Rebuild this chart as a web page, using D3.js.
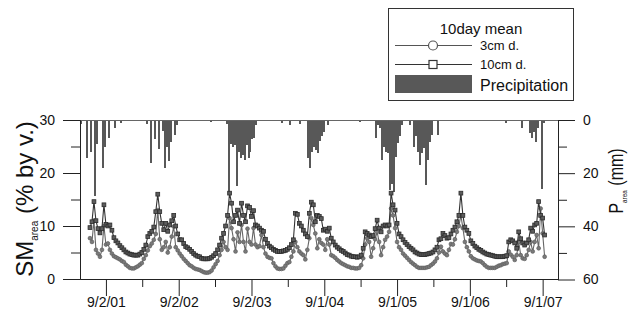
<!DOCTYPE html>
<html><head><meta charset="utf-8">
<script src="https://cdn.jsdelivr.net/npm/d3@7"></script>
<style>
body{margin:0;background:#fff}
svg{display:block}
text{font-family:"Liberation Sans",Arial,sans-serif;fill:#111}
</style>
</head><body>
<svg id="chart" width="631" height="320"></svg>
<script>
// ---------------- data ----------------
const tickDates  = ["2001-09-02","2002-09-02","2003-09-02","2004-09-01","2005-09-01","2006-09-01","2007-09-01"];
const tickLabels = ["9/2/01","9/2/02","9/2/03","9/1/04","9/1/05","9/1/06","9/1/07"];
const minorTickDates = ["2002-03-03","2003-03-03","2004-03-02","2005-03-02","2006-03-02","2007-03-02"];
const smTicks = [0,10,20,30];
const smMinorTicks = [5,15,25];
const pTicks = [0,20,40,60];
const pMinorTicks = [10,30,50];

// soil moisture (% by volume), 10day means starting 2001-06-14
const smStart = "2001-06-14", smStepDays = 10;
const sm10cm = [
 9.7,10.8,14.6,11.0,9.5,8.7,9.5,14.0,10.3,10.0,
 10.2,9.2,7.8,7.2,6.8,6.3,5.9,5.5,5.1,4.9,
 4.7,4.6,4.5,4.5,4.5,4.7,5.0,5.6,6.4,8.0,
 8.6,9.0,9.8,12.7,16.0,12.7,10.5,9.3,10.5,9.0,
 10.2,11.0,12.0,10.0,8.5,7.4,7.4,6.7,6.1,5.9,
 5.6,5.2,4.8,4.5,4.3,4.2,3.9,3.8,3.8,3.8,
 3.9,4.1,4.4,4.8,5.5,6.4,7.7,8.6,10.0,12.0,
 16.2,14.3,10.8,12.0,13.0,10.5,14.3,12.0,10.8,13.8,
 13.5,11.8,12.9,10.2,10.0,9.6,9.2,9.0,7.5,6.7,
 6.2,5.9,5.6,5.4,5.2,5.2,5.2,5.3,5.4,5.6,
 5.9,6.5,7.4,12.4,12.2,10.5,10.0,9.2,8.5,8.0,
 12.4,14.5,14.0,10.8,12.0,11.8,11.4,9.2,9.4,9.0,
 9.6,7.7,7.0,6.4,6.0,5.7,5.4,5.2,4.9,4.6,
 4.5,4.3,4.2,4.2,4.1,4.2,4.5,5.8,8.9,8.6,
 8.3,8.0,8.2,9.5,11.1,9.6,8.9,10.0,10.2,10.0,
 10.2,16.2,14.0,13.0,10.5,8.5,8.0,7.4,6.9,6.5,
 6.1,5.8,5.5,5.1,4.9,4.7,4.6,4.6,4.6,4.7,
 4.8,4.9,5.1,5.5,6.0,7.4,7.6,8.6,8.2,7.7,
 7.8,8.5,9.2,9.8,10.8,12.0,16.2,12.0,9.8,9.2,
 8.6,7.2,6.7,6.2,5.9,5.6,5.4,5.1,4.9,4.7,
 4.6,4.5,4.4,4.3,4.2,4.2,4.2,4.2,4.3,4.4,
 7.0,7.4,7.2,6.8,5.8,8.9,7.6,6.8,6.4,6.8,
 7.4,9.6,9.0,10.2,10.5,14.6,12.0,11.5,8.3
];
const sm3cm = [
 7.7,7.0,11.0,5.5,4.8,4.2,5.5,10.0,6.5,6.7,
 5.5,4.8,4.3,4.1,3.9,3.7,3.4,3.2,2.7,2.4,
 2.1,2.0,2.0,2.2,2.4,2.7,3.0,3.8,4.5,5.4,
 6.2,6.7,7.4,8.5,13.0,7.5,5.5,6.0,7.0,5.0,
 6.0,8.0,9.9,6.0,5.4,4.8,4.3,3.8,3.4,3.0,
 2.6,2.4,2.1,1.9,1.8,1.7,1.5,1.3,1.2,1.2,
 1.3,1.6,2.2,2.8,3.4,4.5,5.5,7.0,6.0,5.5,
 11.5,9.6,7.5,5.2,8.8,7.0,10.2,7.0,5.2,9.5,
 7.0,6.5,9.6,6.5,6.0,6.2,8.3,6.0,4.8,4.2,
 4.0,3.9,3.0,2.4,2.0,1.9,1.9,2.0,2.5,3.0,
 3.2,4.2,5.2,7.0,6.0,5.2,4.8,4.5,3.7,5.5,
 7.7,11.5,10.2,8.6,5.8,7.5,6.8,6.5,5.5,7.5,
 6.5,4.5,4.3,4.0,3.6,3.3,3.0,2.8,2.6,2.4,
 2.3,2.1,2.1,2.0,2.0,2.1,2.6,3.9,6.5,7.7,
 7.0,4.2,5.8,7.5,8.9,7.0,4.5,6.0,7.4,8.0,
 8.9,13.3,12.0,9.6,7.0,6.0,5.5,4.8,4.4,4.0,
 3.6,3.2,2.9,2.6,2.3,2.1,2.1,2.1,2.1,2.2,
 2.3,2.6,2.9,3.3,3.9,5.0,6.1,5.2,4.8,4.5,
 5.5,6.6,6.5,7.5,8.9,10.0,12.0,9.6,7.0,6.0,
 5.2,4.3,3.9,3.7,3.5,3.4,3.3,3.0,2.6,2.3,
 2.1,2.1,2.1,2.1,2.3,2.5,2.6,2.8,2.9,3.0,
 5.2,4.6,4.2,3.6,4.5,7.0,4.5,3.9,3.8,4.5,
 5.5,7.0,5.2,7.0,8.3,5.8,13.3,8.6,4.2
];

// precipitation (mm), 10-day periods starting 2001-04-25
const pStart = "2001-04-25", pStepDays = 10;
const precip = [
 1.5,0,0,14.4,0,12.2,0,28.5,9,0,0,18,10,0,6.9,0,0,3.1,0,0,
 1.3,0,0,0,0,0,0.5,0,0,0,0,0,0,1.5,0,16.2,0,7,0,11,
 0,4,18.1,10,15.6,8.1,0,5.6,2,0,0,0,0,0,0,0,0,0.5,0,0,
 0,0,0,0,0,0.8,0,0,0,0,0,0,0,1.5,27.5,9,10,9.5,25,12,
 14.4,13,15,9.4,14.4,11.9,7,6.9,1.9,0,0,0,0,0,0,0,0,0,0,0,
 0,1.2,0,0,0,1.9,0,0,0,0,1.5,0,0,0,14.4,18.1,12,10,11.2,12.5,
 8,6.2,4.4,0,1.9,0,0,0,0,0,0,0,0,0,0,0,0,0,0,0,
 0.8,0,0,0,0,0,0,0,6.9,2,3.1,15,10,11.9,12.5,26.2,24,27,14,8.7,
 6.2,2,0,0,0,1.9,0,10,6.2,12,16.9,12.5,10.6,24.4,15,8.1,5.6,0,0,5.6,
 0,0,0,0,0,0,0,0,0,0,0,0,0,0,0,0,0,0,0,0,
 0.5,0,0,0,0,0,0,0,0,0,0,0,0,1.3,0,0,0,0,0,0,
 0,3.1,0,0,0,5,6.9,4.4,8.1,3,0,25.8,1,0
];

// ---------------- drawing ----------------
const parse = d3.timeParse("%Y-%m-%d");
const svg = d3.select("#chart");
const L = 80, R = 558, T = 120, B = 279;

const x = d3.scaleTime().domain([parse("2001-04-25"), parse("2007-11-17")]).range([L, R]);
const ySM = d3.scaleLinear().domain([0,30]).range([B, T]);
const yP = d3.scaleLinear().domain([0,60]).range([T, B + 0.5]);

const smDates = sm10cm.map((_, i) => d3.timeDay.offset(parse(smStart), smStepDays * i));
const pDates = precip.map((_, i) => d3.timeDay.offset(parse(pStart), pStepDays * i));

// precipitation bars hanging from top
svg.append("g").selectAll("rect")
  .data(precip.map((v, i) => ({v, d: pDates[i]})).filter(o => o.v > 0))
  .join("rect")
  .attr("x", o => x(o.d))
  .attr("width", o => x(d3.timeDay.offset(o.d, pStepDays)) - x(o.d))
  .attr("y", T)
  .attr("height", o => yP(o.v) - T)
  .attr("fill", "#585858")
  .attr("shape-rendering", "crispEdges");

// top frame line
svg.append("line").attr("x1", L).attr("x2", R).attr("y1", T + 0.5).attr("y2", T + 0.5)
  .attr("stroke", "#666").attr("stroke-width", 1);

// series
const line = d3.line().x((d, i) => x(smDates[i])).y(d => ySM(d));
svg.append("path").datum(sm3cm).attr("d", line).attr("fill", "none")
  .attr("stroke", "#666").attr("stroke-width", 1.1);
svg.append("g").selectAll("circle").data(sm3cm).join("circle")
  .attr("cx", (d, i) => x(smDates[i])).attr("cy", d => ySM(d)).attr("r", 1.9)
  .attr("fill", "#7a7a7a").attr("stroke", "#5e5e5e").attr("stroke-width", 0.7);

svg.append("path").datum(sm10cm).attr("d", line).attr("fill", "none")
  .attr("stroke", "#333").attr("stroke-width", 1.1);
const sq = 3.8;
svg.append("g").selectAll("rect").data(sm10cm).join("rect")
  .attr("x", (d, i) => x(smDates[i]) - sq / 2).attr("y", d => ySM(d) - sq / 2)
  .attr("width", sq).attr("height", sq)
  .attr("fill", "#5c5c5c").attr("stroke", "#2b2b2b").attr("stroke-width", 0.8);

// axes
function styleAxis(g) {
  g.selectAll("path,line").attr("stroke", "#222");
  g.selectAll("text").attr("font-size", 14).attr("fill", "#111")
    .attr("font-family", "'Liberation Sans', Arial, sans-serif");
}
svg.append("g").attr("transform", `translate(${L},0)`)
  .call(d3.axisLeft(ySM).tickValues(smMinorTicks).tickSize(9).tickSizeOuter(0).tickFormat(""))
  .call(styleAxis);
svg.append("g").attr("transform", `translate(${L},0)`)
  .call(d3.axisLeft(ySM).tickValues(smTicks).tickSize(17).tickSizeOuter(0).tickPadding(8))
  .call(styleAxis);

svg.append("g").attr("transform", `translate(${R},0)`)
  .call(d3.axisRight(yP).tickValues(pMinorTicks).tickSize(9).tickSizeOuter(0).tickFormat(""))
  .call(styleAxis);
svg.append("g").attr("transform", `translate(${R},0)`)
  .call(d3.axisRight(yP).tickValues(pTicks).tickSize(17).tickSizeOuter(0).tickPadding(8))
  .call(styleAxis);

svg.append("g").attr("transform", `translate(0,${B})`)
  .call(d3.axisBottom(x).tickValues(minorTickDates.map(parse)).tickSize(8).tickSizeOuter(0).tickFormat(""))
  .call(styleAxis);
svg.append("g").attr("transform", `translate(0,${B})`)
  .call(d3.axisBottom(x).tickValues(tickDates.map(parse)).tickSize(17).tickSizeOuter(0).tickPadding(1)
    .tickFormat((d, i) => tickLabels[i]))
  .call(styleAxis);

// axis titles
const lt = svg.append("text").attr("transform", "translate(33,199) rotate(-90)")
  .attr("text-anchor", "middle").attr("font-size", 24);
lt.append("tspan").text("SM");
lt.append("tspan").attr("font-size", 10).attr("dy", 5).text("area");
lt.append("tspan").attr("dy", -5).text(" (% by v.)");

const rt = svg.append("text").attr("transform", "translate(623,181) rotate(-90) scale(0.8,1)")
  .attr("text-anchor", "middle").attr("font-size", 20);
rt.append("tspan").text("P");
rt.append("tspan").attr("font-size", 8).attr("dy", 4).text("area");
rt.append("tspan").attr("dy", -4).text(" (mm)");

// legend
const lg = svg.append("g");
lg.append("rect").attr("x", 388.5).attr("y", 8.5).attr("width", 185).attr("height", 92)
  .attr("fill", "#fff").attr("stroke", "#333");
lg.append("text").attr("x", 481).attr("y", 34).attr("text-anchor", "middle").attr("font-size", 15).text("10day mean");
lg.append("line").attr("x1", 395).attr("x2", 472).attr("y1", 45.5).attr("y2", 45.5).attr("stroke", "#555");
lg.append("circle").attr("cx", 433).attr("cy", 45.5).attr("r", 4.5).attr("fill", "#fff").attr("stroke", "#555").attr("stroke-width", 1.2);
lg.append("text").attr("x", 480).attr("y", 50).attr("font-size", 13).text("3cm d.");
lg.append("line").attr("x1", 395).attr("x2", 472).attr("y1", 64.5).attr("y2", 64.5).attr("stroke", "#333");
lg.append("rect").attr("x", 429).attr("y", 60.5).attr("width", 8).attr("height", 8).attr("fill", "#fff").attr("stroke", "#333").attr("stroke-width", 1.2);
lg.append("text").attr("x", 480).attr("y", 69).attr("font-size", 13).text("10cm d.");
lg.append("rect").attr("x", 395).attr("y", 75).attr("width", 77).attr("height", 18).attr("fill", "#585858");
lg.append("text").attr("x", 480).attr("y", 91).attr("font-size", 16).text("Precipitation");
</script>
</body></html>
